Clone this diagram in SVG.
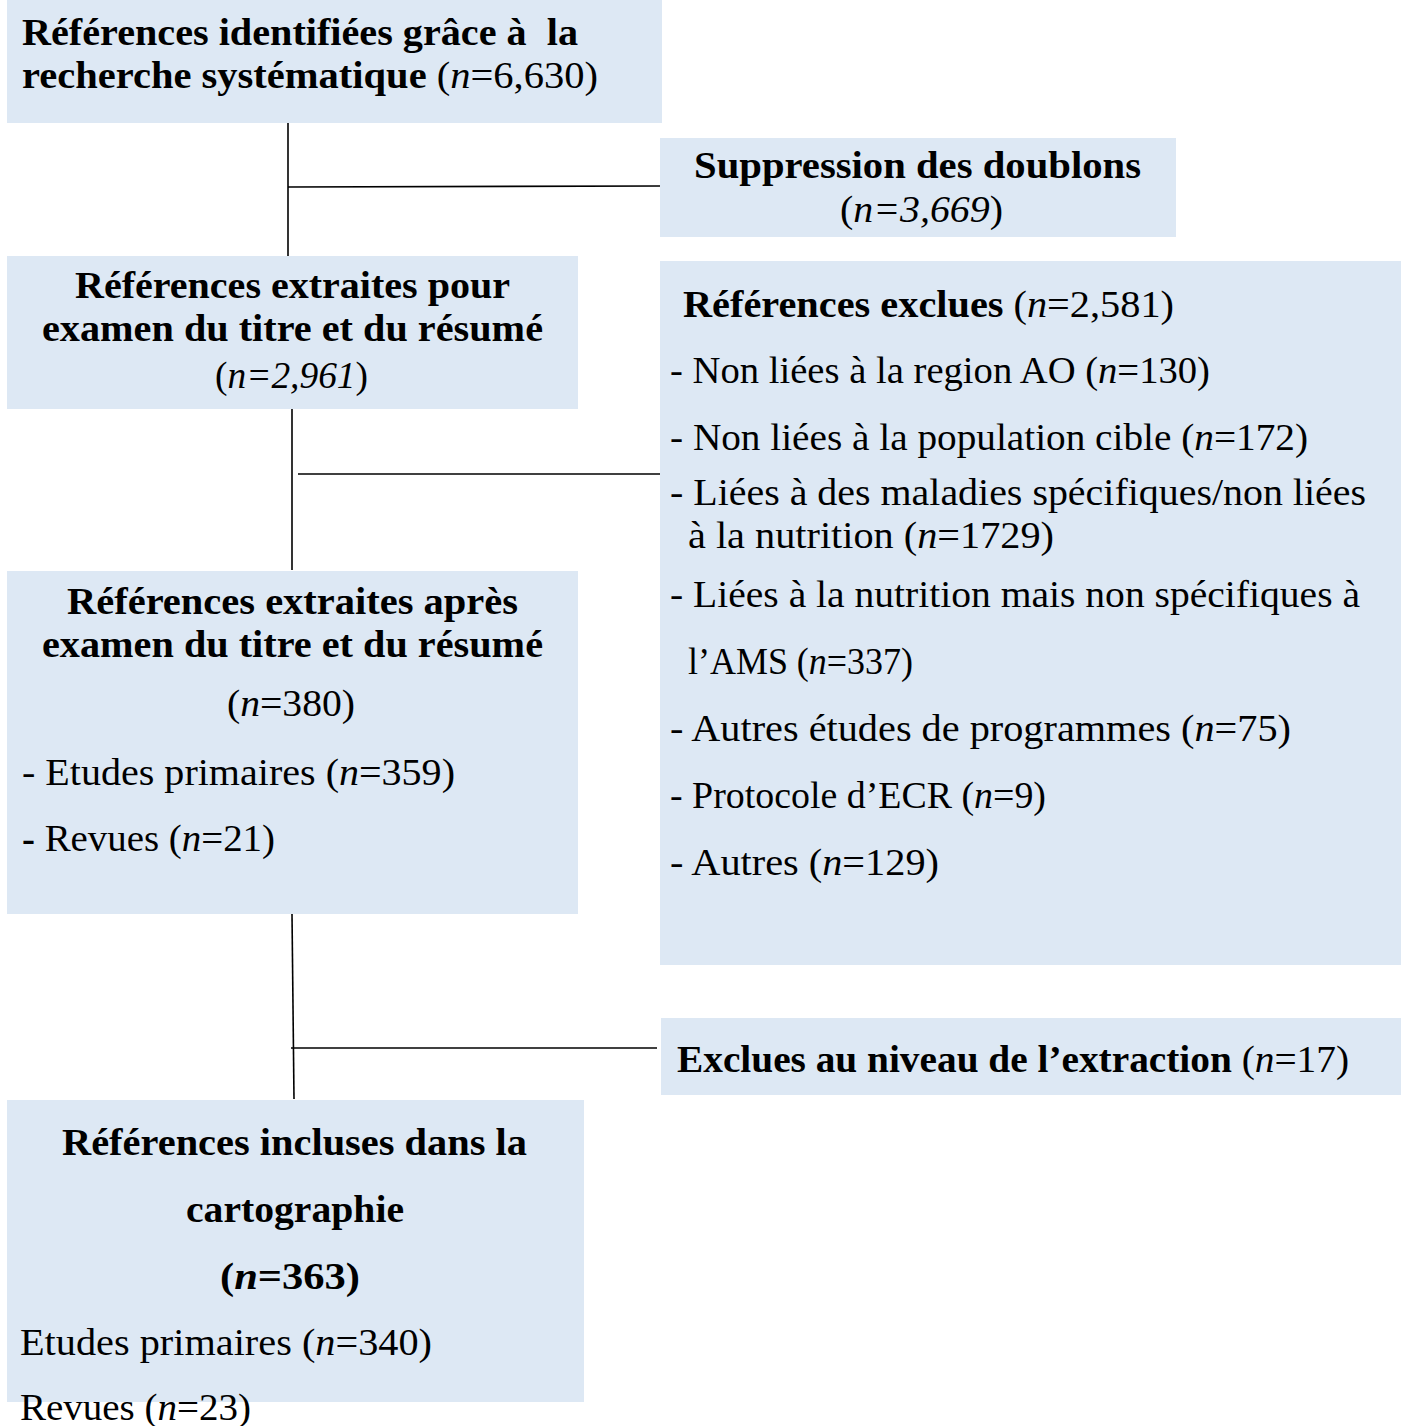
<svg xmlns="http://www.w3.org/2000/svg" width="1402" height="1426" viewBox="0 0 1402 1426">
<style>
.box{fill:#DDE8F4;}
text{font-family:"Liberation Serif","DejaVu Serif",serif;font-size:38px;fill:#000;}
.b{font-weight:bold;}
.i{font-style:italic;}
.ln{stroke:#000;stroke-width:1.6;fill:none;}
</style>
<rect width="1402" height="1426" fill="#fff"/>
<g id="connectors">
<line class="ln" x1="288" y1="123" x2="288" y2="256"/>
<line class="ln" x1="288" y1="187" x2="660" y2="186"/>
<line class="ln" x1="292" y1="409" x2="292" y2="570"/>
<line class="ln" x1="298" y1="474" x2="660" y2="474"/>
<line class="ln" x1="292" y1="914" x2="294" y2="1099"/>
<line class="ln" x1="291" y1="1048" x2="657" y2="1048"/>
</g>
<g id="n1">
<rect class="box" x="7" y="0" width="655" height="123"/>
<text x="22" y="45" class="b" textLength="556" lengthAdjust="spacingAndGlyphs">Références identifiées grâce à&#160; la</text>
<text x="22" y="88" textLength="576" lengthAdjust="spacingAndGlyphs"><tspan class="b">recherche systématique</tspan> (<tspan class="i">n</tspan>=6,630)</text>
</g>
<g id="n2">
<rect class="box" x="660" y="138" width="516" height="99"/>
<text x="694" y="178" class="b" textLength="447" lengthAdjust="spacingAndGlyphs">Suppression des doublons</text>
<text x="840" y="222" textLength="163" lengthAdjust="spacingAndGlyphs">(<tspan class="i">n=3,669</tspan>)</text>
</g>
<g id="n3">
<rect class="box" x="7" y="256" width="571" height="153"/>
<text x="75" y="298" class="b" textLength="435" lengthAdjust="spacingAndGlyphs">Références extraites pour</text>
<text x="42" y="341" class="b" textLength="501" lengthAdjust="spacingAndGlyphs">examen du titre et du résumé</text>
<text x="215" y="388" textLength="153" lengthAdjust="spacingAndGlyphs">(<tspan class="i">n=2,961</tspan>)</text>
</g>
<g id="n4">
<rect class="box" x="660" y="261" width="741" height="704"/>
<text x="683" y="317" textLength="491" lengthAdjust="spacingAndGlyphs"><tspan class="b">Références exclues</tspan> (<tspan class="i">n</tspan>=2,581)</text>
<text x="670" y="383" textLength="540" lengthAdjust="spacingAndGlyphs">- Non liées à la region AO (<tspan class="i">n</tspan>=130)</text>
<text x="670" y="450" textLength="638" lengthAdjust="spacingAndGlyphs">- Non liées à la population cible (<tspan class="i">n</tspan>=172)</text>
<text x="670" y="505" textLength="696" lengthAdjust="spacingAndGlyphs">- Liées à des maladies spécifiques/non liées</text>
<text x="688" y="548" textLength="366" lengthAdjust="spacingAndGlyphs">à la nutrition (<tspan class="i">n</tspan>=1729)</text>
<text x="670" y="607" textLength="690" lengthAdjust="spacingAndGlyphs">- Liées à la nutrition mais non spécifiques à</text>
<text x="688" y="674" textLength="225" lengthAdjust="spacingAndGlyphs">l’AMS (<tspan class="i">n</tspan>=337)</text>
<text x="670" y="741" textLength="621" lengthAdjust="spacingAndGlyphs">- Autres études de programmes (<tspan class="i">n</tspan>=75)</text>
<text x="670" y="808" textLength="376" lengthAdjust="spacingAndGlyphs">- Protocole d’ECR (<tspan class="i">n</tspan>=9)</text>
<text x="670" y="875" textLength="269" lengthAdjust="spacingAndGlyphs">- Autres (<tspan class="i">n</tspan>=129)</text>
</g>
<g id="n5">
<rect class="box" x="7" y="571" width="571" height="343"/>
<text x="67" y="614" class="b" textLength="451" lengthAdjust="spacingAndGlyphs">Références extraites après</text>
<text x="42" y="657" class="b" textLength="501" lengthAdjust="spacingAndGlyphs">examen du titre et du résumé</text>
<text x="227" y="716" textLength="128" lengthAdjust="spacingAndGlyphs">(<tspan class="i">n</tspan>=380)</text>
<text x="22" y="785" textLength="433" lengthAdjust="spacingAndGlyphs">- Etudes primaires (<tspan class="i">n</tspan>=359)</text>
<text x="22" y="851" textLength="253" lengthAdjust="spacingAndGlyphs"><tspan class="b">-</tspan> Revues (<tspan class="i">n</tspan>=21)</text>
</g>
<g id="n6">
<rect class="box" x="661" y="1018" width="740" height="77"/>
<text x="677" y="1072" textLength="672" lengthAdjust="spacingAndGlyphs"><tspan class="b">Exclues au niveau de l’extraction</tspan> (<tspan class="i">n</tspan>=17)</text>
</g>
<g id="n7">
<rect class="box" x="7" y="1100" width="577" height="302"/>
<text x="62" y="1155" class="b" textLength="465" lengthAdjust="spacingAndGlyphs">Références incluses dans la</text>
<text x="186" y="1222" class="b" textLength="218" lengthAdjust="spacingAndGlyphs">cartographie</text>
<text x="220" y="1289" class="b" textLength="140" lengthAdjust="spacingAndGlyphs">(<tspan class="i">n</tspan>=363)</text>
<text x="20" y="1355" textLength="412" lengthAdjust="spacingAndGlyphs">Etudes primaires (<tspan class="i">n</tspan>=340)</text>
<text x="20" y="1420" textLength="231" lengthAdjust="spacingAndGlyphs">Revues (<tspan class="i">n</tspan>=23)</text>
</g>
</svg>
